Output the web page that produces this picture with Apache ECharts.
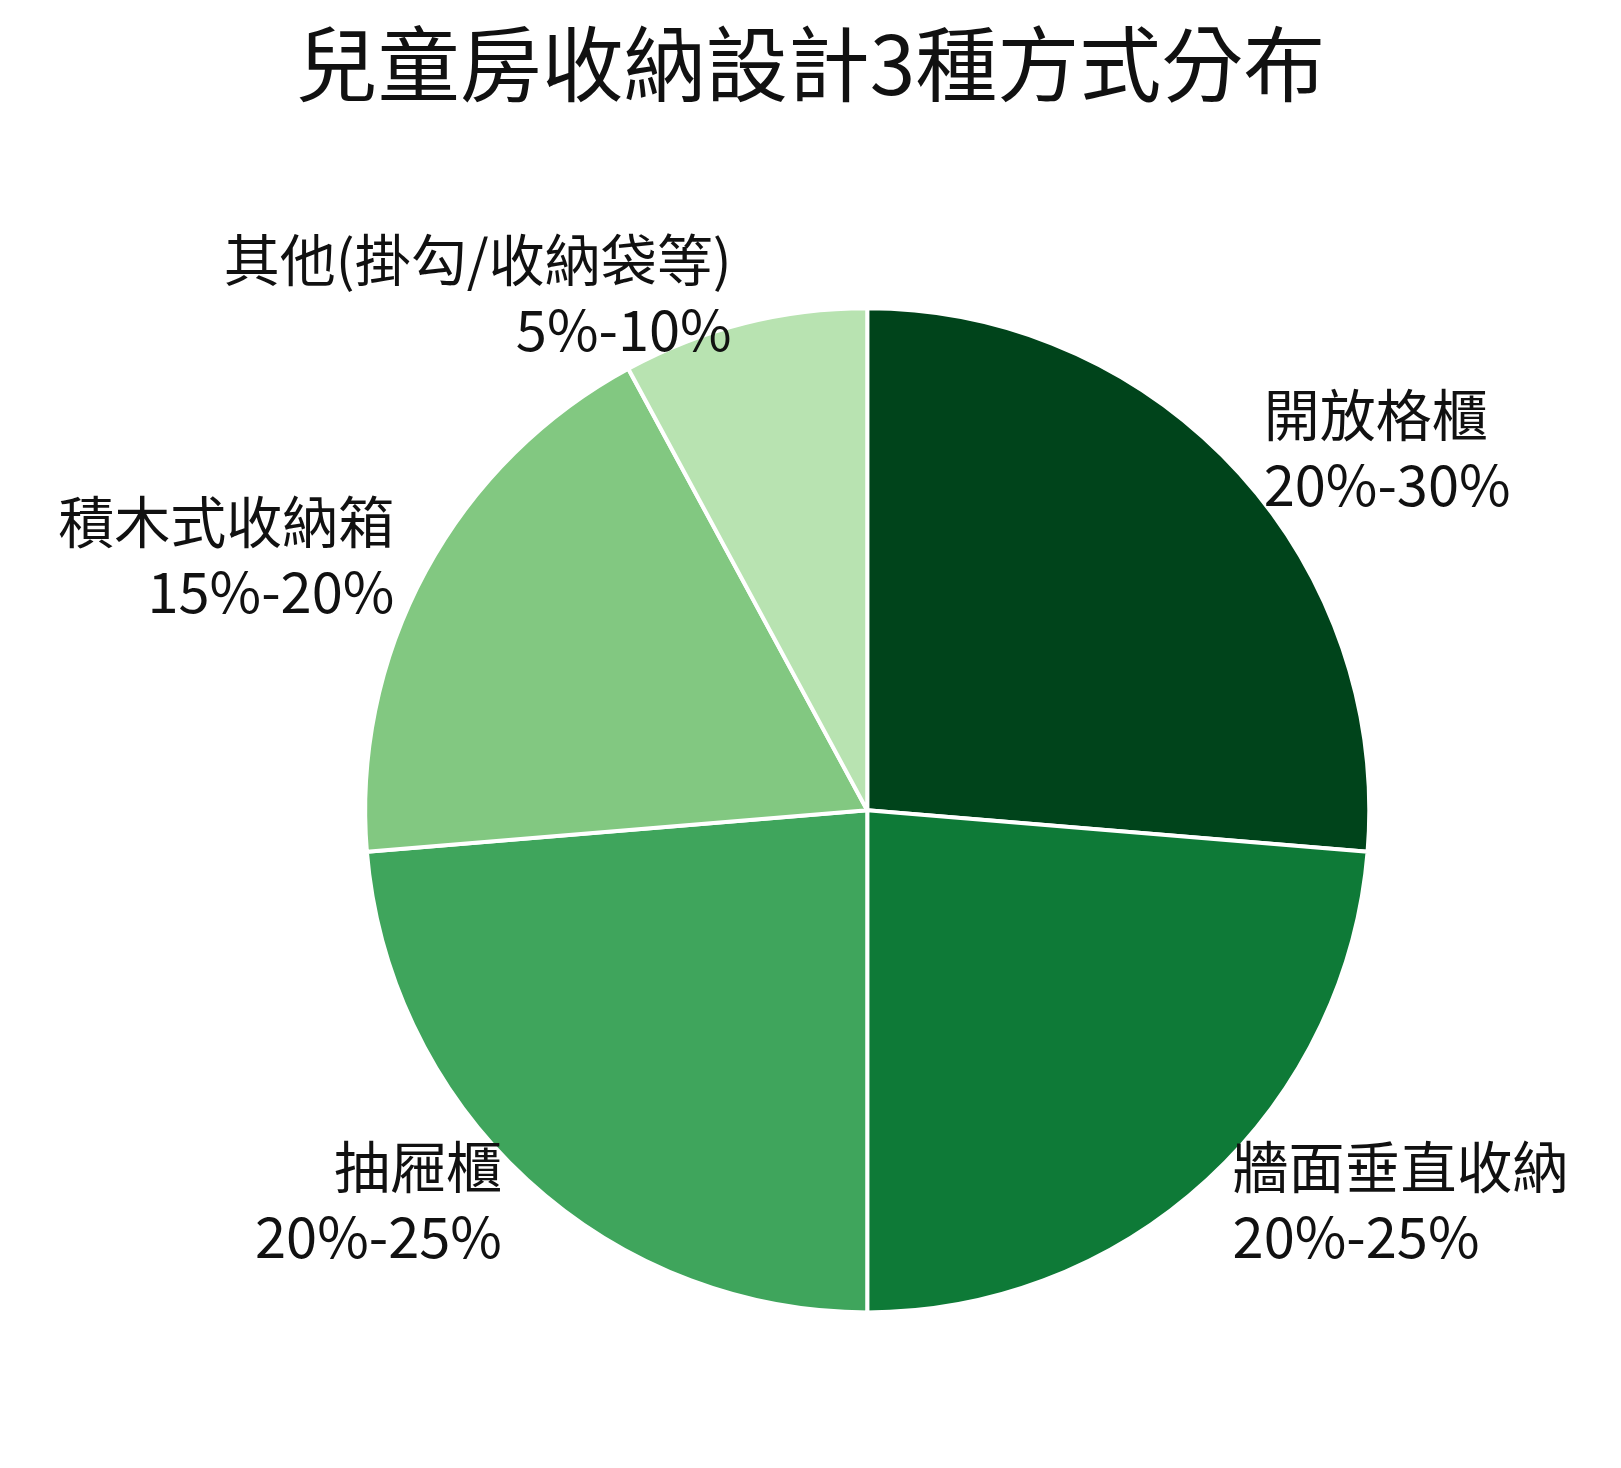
<!DOCTYPE html>
<html><head><meta charset="utf-8">
<script src="https://cdn.jsdelivr.net/npm/echarts@6/dist/echarts.min.js"></script>
<style>html,body{margin:0;background:#fff}#c{width:1621px;height:1468px}</style>
</head><body><div id="c"></div>
<script>
const categories = ['開放格櫃','牆面垂直收納','抽屜櫃','積木式收納箱','其他(掛勾/收納袋等)'];
const rangeLabels = ['20%-30%','20%-25%','20%-25%','15%-20%','5%-10%'];
const values = [25, 22.5, 22.5, 17.5, 7.5];
const colors = ['#00441b','#0e7a37','#3fa55c','#82c881','#b8e3b1'];
const chart = echarts.init(document.getElementById('c'));
chart.setOption({
  backgroundColor:'#fff',
  title:{text:'兒童房收納設計3種方式分布',left:'center',top:18,
    textStyle:{fontFamily:'Noto Sans CJK TC',fontSize:82,fontWeight:'normal',color:'#111'}},
  series:[{
    type:'pie',center:['53.5%','55.2%'],radius:'68.4%',startAngle:90,clockwise:true,
    data:categories.map((n,i)=>({name:n,value:values[i],itemStyle:{color:colors[i]}})),
    itemStyle:{borderColor:'#fff',borderWidth:4},
    label:{show:true,position:'outside',formatter:p=>p.name+'\n'+rangeLabels[p.dataIndex],
      fontFamily:'Noto Sans CJK TC',fontSize:56,lineHeight:70,color:'#111'},
    labelLine:{show:false,length:30,length2:0},
    emphasis:{disabled:true},animation:false
  }]
});
</script></body></html>
